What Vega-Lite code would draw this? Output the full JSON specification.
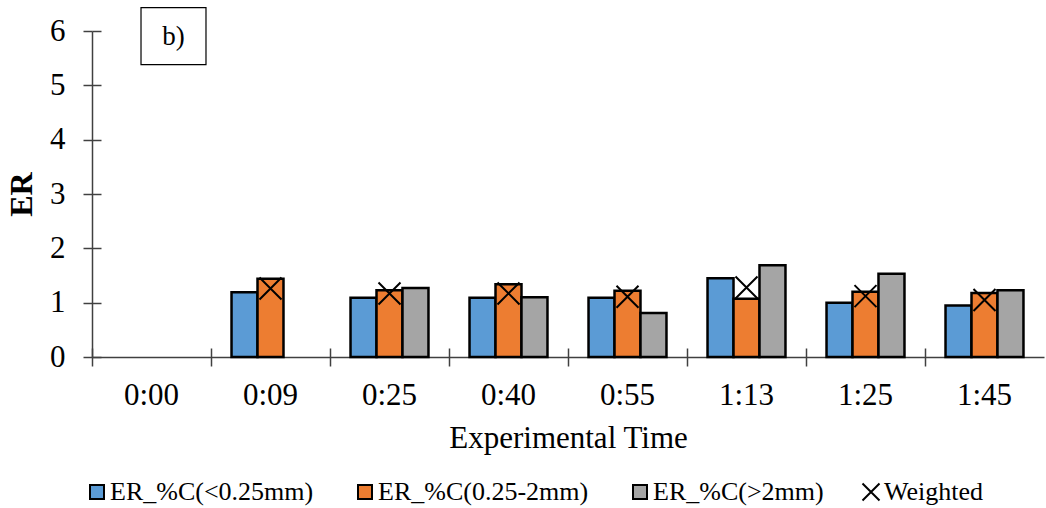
{
  "$schema": "https://vega.github.io/schema/vega-lite/v6.json",
  "width": 952,
  "height": 326,
  "autosize": {"type": "none"},
  "padding": {"left": 92, "top": 31, "right": 2, "bottom": 151},
  "datasets": {
    "bars": [
      {"time": "0:09", "series": "ER_%C(<0.25mm)", "value": 1.19},
      {"time": "0:09", "series": "ER_%C(0.25-2mm)", "value": 1.44},
      {"time": "0:25", "series": "ER_%C(<0.25mm)", "value": 1.09},
      {"time": "0:25", "series": "ER_%C(0.25-2mm)", "value": 1.23},
      {"time": "0:25", "series": "ER_%C(>2mm)", "value": 1.27},
      {"time": "0:40", "series": "ER_%C(<0.25mm)", "value": 1.09},
      {"time": "0:40", "series": "ER_%C(0.25-2mm)", "value": 1.34},
      {"time": "0:40", "series": "ER_%C(>2mm)", "value": 1.10},
      {"time": "0:55", "series": "ER_%C(<0.25mm)", "value": 1.09},
      {"time": "0:55", "series": "ER_%C(0.25-2mm)", "value": 1.22},
      {"time": "0:55", "series": "ER_%C(>2mm)", "value": 0.81},
      {"time": "1:13", "series": "ER_%C(<0.25mm)", "value": 1.45},
      {"time": "1:13", "series": "ER_%C(0.25-2mm)", "value": 1.07},
      {"time": "1:13", "series": "ER_%C(>2mm)", "value": 1.69},
      {"time": "1:25", "series": "ER_%C(<0.25mm)", "value": 1.00},
      {"time": "1:25", "series": "ER_%C(0.25-2mm)", "value": 1.20},
      {"time": "1:25", "series": "ER_%C(>2mm)", "value": 1.53},
      {"time": "1:45", "series": "ER_%C(<0.25mm)", "value": 0.95},
      {"time": "1:45", "series": "ER_%C(0.25-2mm)", "value": 1.18},
      {"time": "1:45", "series": "ER_%C(>2mm)", "value": 1.23}
    ],
    "weighted": [
      {"time": "0:09", "series": "Weighted", "value": 1.26},
      {"time": "0:25", "series": "Weighted", "value": 1.17},
      {"time": "0:40", "series": "Weighted", "value": 1.17},
      {"time": "0:55", "series": "Weighted", "value": 1.11},
      {"time": "1:13", "series": "Weighted", "value": 1.28},
      {"time": "1:25", "series": "Weighted", "value": 1.12},
      {"time": "1:45", "series": "Weighted", "value": 1.05}
    ],
    "note": [{"label": "b)"}]
  },
  "resolve": {"axis": {"x": "independent", "y": "independent"}},
  "layer": [
    {
      "data": {"name": "bars"},
      "mark": {"type": "bar", "stroke": "black", "strokeWidth": 2.5},
      "encoding": {
        "x": {
          "field": "time", "type": "nominal",
          "scale": {"domain": ["0:00", "0:09", "0:25", "0:40", "0:55", "1:13", "1:25", "1:45"], "paddingInner": 0, "paddingOuter": 0},
          "axis": {"orient": "bottom", "title": "Experimental Time", "domain": true, "domainColor": "#404040", "domainWidth": 1.5, "ticks": true, "tickSize": 9, "tickColor": "#404040", "tickWidth": 1.5, "bandPosition": 0, "labelPadding": 14, "labelAngle": 0, "labelFontSize": 31, "titleFontSize": 31, "titleFontWeight": "normal", "titlePadding": 13, "grid": false}
        },
        "xOffset": {
          "field": "series", "type": "nominal",
          "scale": {"domain": ["ER_%C(<0.25mm)", "ER_%C(0.25-2mm)", "ER_%C(>2mm)"], "paddingInner": 0, "paddingOuter": 0.79}
        },
        "y": {
          "field": "value", "type": "quantitative",
          "scale": {"domain": [0, 6], "nice": false, "zero": true},
          "axis": {"orient": "left", "title": "ER", "values": [0, 1, 2, 3, 4, 5, 6], "domain": true, "domainColor": "#404040", "domainWidth": 1.5, "ticks": true, "tickSize": 9, "tickColor": "#404040", "tickWidth": 1.5, "labelPadding": 18, "labelFontSize": 31, "titleFontSize": 32, "titleFontWeight": "bold", "titlePadding": 11, "grid": false}
        },
        "fill": {
          "field": "series", "type": "nominal",
          "scale": {"domain": ["ER_%C(<0.25mm)", "ER_%C(0.25-2mm)", "ER_%C(>2mm)"], "range": ["#5b9bd5", "#ed7d31", "#a5a5a5"]},
          "legend": {
            "orient": "none", "legendX": -8, "legendY": 448, "direction": "horizontal", "title": null,
            "symbolType": "square", "symbolSize": 196, "symbolStrokeColor": "black", "symbolStrokeWidth": 2,
            "labelFont": "Liberation Serif", "labelFontSize": 26, "labelColor": "black", "labelLimit": 500,
            "columnPadding": 38, "labelOffset": 0
          }
        }
      }
    },
    {
      "data": {"name": "weighted"},
      "mark": {"type": "point", "size": 484, "filled": false, "stroke": "black", "color": "black", "strokeWidth": 2, "opacity": 1},
      "encoding": {
        "x": {
          "field": "time", "type": "nominal",
          "axis": {"orient": "bottom", "title": null, "domain": false, "labels": false, "ticks": true, "tickSize": 9, "offset": -9, "bandPosition": 0, "tickColor": "#404040", "tickWidth": 1.5, "grid": false}
        },
        "y": {
          "field": "value", "type": "quantitative",
          "axis": {"orient": "left", "title": null, "values": [0, 1, 2, 3, 4, 5, 6], "domain": false, "labels": false, "ticks": true, "tickSize": 9, "offset": -9, "tickColor": "#404040", "tickWidth": 1.5, "grid": false}
        },
        "shape": {
          "field": "series", "type": "nominal",
          "scale": {"domain": ["Weighted"], "range": ["M-1,-1L1,1M-1,1L1,-1"]},
          "legend": {
            "orient": "none", "legendX": 766, "legendY": 448, "direction": "horizontal", "title": null,
            "symbolSize": 289, "symbolStrokeColor": "black", "symbolStrokeWidth": 2, "symbolFillColor": "transparent",
            "labelFont": "Liberation Serif", "labelFontSize": 26, "labelColor": "black", "labelLimit": 500, "labelOffset": 0
          }
        }
      }
    },
    {
      "data": {"name": "note"},
      "mark": {"type": "point", "shape": "M-1.14,-1L1.14,-1L1.14,1L-1.14,1Z", "size": 3249, "filled": true, "fill": "white", "stroke": "black", "strokeWidth": 1.2, "opacity": 1, "xOffset": 22},
      "encoding": {
        "x": {"datum": "0:00", "type": "nominal", "axis": null},
        "y": {"datum": 5.904, "type": "quantitative", "axis": null}
      }
    },
    {
      "data": {"name": "note"},
      "mark": {"type": "text", "font": "Liberation Serif", "fontSize": 27, "color": "black", "align": "center", "baseline": "middle", "xOffset": 22, "yOffset": 1},
      "encoding": {
        "x": {"datum": "0:00", "type": "nominal", "axis": null},
        "y": {"datum": 5.904, "type": "quantitative", "axis": null},
        "text": {"field": "label", "type": "nominal"}
      }
    }
  ],
  "config": {
    "view": {"stroke": null},
    "font": "Liberation Serif",
    "axis": {"labelFont": "Liberation Serif", "titleFont": "Liberation Serif", "labelColor": "black", "titleColor": "black"}
  }
}
